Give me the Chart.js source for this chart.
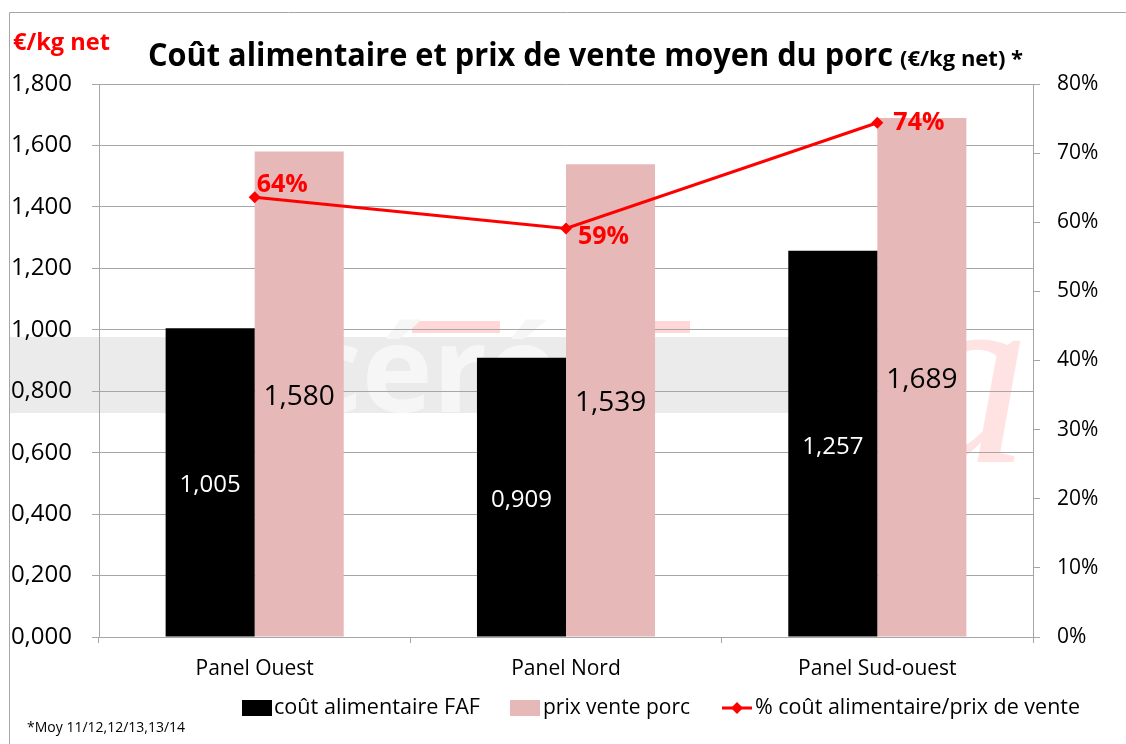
<!DOCTYPE html>
<html>
<head>
<meta charset="utf-8">
<style>
  html, body { margin: 0; padding: 0; background: #fff; }
  #wrap { width: 1126px; height: 744px; position: relative; }
</style>
<script src="https://cdn.jsdelivr.net/npm/chart.js@4.4.1/dist/chart.umd.min.js"></script>
</head>
<body>
<div id="wrap"><canvas id="chart" width="1126" height="744"></canvas></div>
<script>
const categories = ['Panel Ouest', 'Panel Nord', 'Panel Sud-ouest'];
const coutAlimentaire = [1.005, 0.909, 1.257];
const prixVente = [1.580, 1.539, 1.689];
const ratioCout = [0.636, 0.591, 0.744];
const ratioLabels = ['64%', '59%', '74%'];

const FONT = '"Open Sans", "Noto Sans", sans-serif';
const pink = '#e6b8b7';
const red = '#ff0000';
const gridGray = '#a6a6a6';

const fmt3 = (v) => v.toFixed(3).replace('.', ',');

// background watermark, border, titles, legend, footnote
const decor = {
    id: 'decor',
    beforeDraw(chart) {
        const ctx = chart.ctx;
        ctx.save();
        ctx.fillStyle = '#fff';
        ctx.fillRect(0, 0, chart.width, chart.height);

        // faint logo watermark
        ctx.fillStyle = '#ebebeb';
        ctx.fillRect(10, 337, 790, 76);
        ctx.fillStyle = 'rgba(255, 205, 205, 0.8)';
        ctx.fillRect(412, 321, 88, 12);
        ctx.fillRect(598, 321, 92, 12);
        ctx.font = 'bold 120px ' + FONT;
        ctx.fillStyle = '#f6f6f6';
        ctx.textBaseline = 'alphabetic';
        ctx.fillText('céréo', 300, 412, 560);
        ctx.font = 'italic 260px "Liberation Serif", serif';
        ctx.fillStyle = 'rgba(255, 185, 185, 0.4)';
        ctx.fillText('a', 900, 462);

        // outer border
        ctx.strokeStyle = '#a6a6a6';
        ctx.lineWidth = 1;
        ctx.beginPath();
        ctx.moveTo(9.5, 744);
        ctx.lineTo(9.5, 12.5);
        ctx.lineTo(1126, 12.5);
        ctx.stroke();
        ctx.restore();
    },
    afterDraw(chart) {
        const ctx = chart.ctx;
        ctx.save();
        ctx.textBaseline = 'alphabetic';
        ctx.textAlign = 'left';

        ctx.fillStyle = red;
        ctx.font = 'bold 24px ' + FONT;
        ctx.fillText('€/kg net', 13, 50, 97);

        ctx.fillStyle = '#000';
        ctx.font = 'bold 32px ' + FONT;
        ctx.fillText('Coût alimentaire et prix de vente moyen du porc', 148, 66, 745);
        ctx.font = 'bold 22px ' + FONT;
        ctx.fillText('(€/kg net) *', 900, 66, 130);

        // legend
        ctx.font = '22px ' + FONT;
        ctx.textBaseline = 'middle';
        ctx.fillStyle = '#000';
        ctx.fillRect(242, 700, 30, 16);
        ctx.fillText('coût alimentaire FAF', 274, 708, 206);
        ctx.fillStyle = pink;
        ctx.fillRect(510, 700, 30, 16);
        ctx.fillStyle = '#000';
        ctx.fillText('prix vente porc', 543, 708, 147);
        ctx.strokeStyle = red;
        ctx.lineWidth = 3;
        ctx.beginPath();
        ctx.moveTo(722, 708);
        ctx.lineTo(752, 708);
        ctx.stroke();
        ctx.fillStyle = red;
        ctx.beginPath();
        ctx.moveTo(737, 702);
        ctx.lineTo(743, 708);
        ctx.lineTo(737, 714);
        ctx.lineTo(731, 708);
        ctx.closePath();
        ctx.fill();
        ctx.fillStyle = '#000';
        ctx.fillText('% coût alimentaire/prix de vente', 755, 708, 325);

        ctx.font = '14px ' + FONT;
        ctx.textBaseline = 'alphabetic';
        ctx.fillText('*Moy 11/12,12/13,13/14', 27, 732, 168);
        ctx.restore();
    }
};

// value labels on bars and line points
const valueLabels = {
    id: 'valueLabels',
    afterDatasetsDraw(chart) {
        const ctx = chart.ctx;
        ctx.save();
        ctx.textAlign = 'center';
        ctx.textBaseline = 'middle';
        [0, 1].forEach((di) => {
            const meta = chart.getDatasetMeta(di);
            ctx.fillStyle = di === 0 ? '#fff' : '#000';
            ctx.font = (di === 0 ? '24px ' : '28px ') + FONT;
            meta.data.forEach((bar, i) => {
                const v = chart.data.datasets[di].data[i];
                ctx.fillText(fmt3(v), bar.x, (bar.y + bar.base) / 2 + 3);
            });
        });
        const lineMeta = chart.getDatasetMeta(2);
        const dx = [2, 12, 16];
        const dy = [-12, 8, 0];
        ctx.textAlign = 'left';
        ctx.font = 'bold 25px ' + FONT;
        ctx.fillStyle = red;
        lineMeta.data.forEach((pt, i) => {
            ctx.fillText(ratioLabels[i], pt.x + dx[i], pt.y + dy[i], 54);
        });
        ctx.restore();
    }
};

new Chart(document.getElementById('chart'), {
    data: {
        labels: categories,
        datasets: [
            {
                type: 'bar',
                label: 'coût alimentaire FAF',
                data: coutAlimentaire,
                backgroundColor: '#000',
                yAxisID: 'y',
                order: 2,
                categoryPercentage: 0.572,
                barPercentage: 1.0
            },
            {
                type: 'bar',
                label: 'prix vente porc',
                data: prixVente,
                backgroundColor: pink,
                yAxisID: 'y',
                order: 2,
                categoryPercentage: 0.572,
                barPercentage: 1.0
            },
            {
                type: 'line',
                label: '% coût alimentaire/prix de vente',
                data: ratioCout,
                borderColor: red,
                backgroundColor: red,
                borderWidth: 3,
                pointStyle: 'rectRot',
                pointRadius: 6,
                pointBorderWidth: 0,
                tension: 0,
                yAxisID: 'y1',
                order: 1
            }
        ]
    },
    options: {
        responsive: false,
        animation: false,
        layout: { padding: { left: 9, right: 0, top: 84, bottom: 67 } },
        plugins: {
            legend: { display: false },
            tooltip: { enabled: false }
        },
        scales: {
            x: {
                offset: true,
                grid: { offset: true, drawOnChartArea: false, tickLength: 6, color: gridGray },
                border: { color: gridGray },
                ticks: { color: '#000', font: { family: FONT, size: 21 }, padding: 13 },
                afterFit(scale) { scale.height = 40; }
            },
            y: {
                position: 'left',
                min: 0,
                max: 1.8,
                ticks: {
                    stepSize: 0.2,
                    color: '#000',
                    padding: 20,
                    font: { family: FONT, size: 24 },
                    callback: (v) => fmt3(v)
                },
                grid: { color: gridGray, tickLength: 7 },
                border: { color: gridGray },
                afterFit(scale) { scale.width = 90; }
            },
            y1: {
                position: 'right',
                min: 0,
                max: 0.8,
                ticks: {
                    stepSize: 0.1,
                    color: '#000',
                    padding: 17,
                    font: { family: FONT, size: 21 },
                    callback: (v) => Math.round(v * 100) + '%'
                },
                grid: { drawOnChartArea: false, color: gridGray, tickLength: 7 },
                border: { color: gridGray },
                afterFit(scale) { scale.width = 93; }
            }
        }
    },
    plugins: [decor, valueLabels]
});
</script>
</body>
</html>
